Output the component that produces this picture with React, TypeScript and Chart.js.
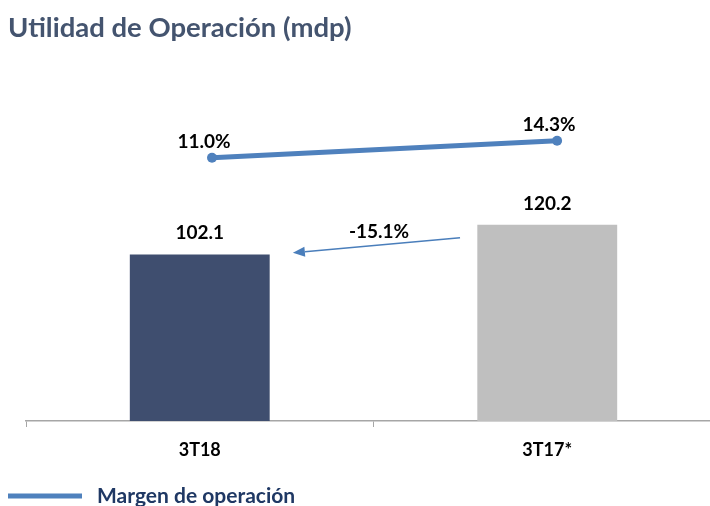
import React, { useEffect, useRef } from 'react';
import { Chart, registerables } from 'chart.js';

Chart.register(...registerables);

const categories = ['3T18', '3T17*'];
const utilidad = [102.1, 120.2];
const margen = [11.0, 14.3];
const barColors = ['#3F4E6F', '#BFBFBF'];
const titleText = 'Utilidad de Operación (mdp)';
const lineLabel = 'Margen de operación';
const variationText = '-15.1%';
// arrow from near 3T17 bar toward 3T18 bar, in (category index, value) terms
const arrowFrom = [0.749, 112.3];
const arrowTo = [0.268, 103.1];
const variationPos = [0.516, 112];

const FONT = 'Lato, "Open Sans", sans-serif';
const LINE_COLOR = '#4F81BD';

const overlayPlugin = {
  id: 'overlay',
  afterDatasetsDraw(chart: any) {
    const ctx = chart.ctx;
    const xs = chart.scales.x;
    const ys = chart.scales.y;
    ctx.save();
    // title
    ctx.fillStyle = '#44546F';
    ctx.font = `bold 27.5px ${FONT}`;
    ctx.textAlign = 'left';
    ctx.textBaseline = 'alphabetic';
    ctx.fillText(titleText, 8, 37);

    // bar labels
    ctx.fillStyle = '#000';
    ctx.font = `bold 19px ${FONT}`;
    ctx.textAlign = 'center';
    const barMeta = chart.getDatasetMeta(0);
    barMeta.data.forEach((el: any, i: number) => {
      ctx.fillText(utilidad[i].toFixed(1), el.x, el.y - 15);
    });
    // line labels
    const lineMeta = chart.getDatasetMeta(1);
    lineMeta.data.forEach((el: any, i: number) => {
      ctx.fillText(margen[i].toFixed(1) + '%', el.x - 8, el.y - 10);
    });

    // arrow
    const catW = xs.getPixelForValue(1) - xs.getPixelForValue(0);
    const px = (v: number) => xs.getPixelForValue(0) + v * catW;
    const x1 = px(arrowFrom[0]), y1 = ys.getPixelForValue(arrowFrom[1]);
    const x2 = px(arrowTo[0]), y2 = ys.getPixelForValue(arrowTo[1]);
    const ang = Math.atan2(y2 - y1, x2 - x1);
    const headL = 12, headW = 5;
    const bx = x2 - headL * Math.cos(ang), by = y2 - headL * Math.sin(ang);
    ctx.strokeStyle = '#4A7EBB';
    ctx.fillStyle = '#4A7EBB';
    ctx.lineWidth = 1.5;
    ctx.beginPath();
    ctx.moveTo(x1, y1);
    ctx.lineTo(bx, by);
    ctx.stroke();
    ctx.beginPath();
    ctx.moveTo(x2, y2);
    ctx.lineTo(bx + headW * Math.sin(ang), by - headW * Math.cos(ang));
    ctx.lineTo(bx - headW * Math.sin(ang), by + headW * Math.cos(ang));
    ctx.closePath();
    ctx.fill();
    ctx.fillStyle = '#000';
    ctx.font = `bold 19px ${FONT}`;
    ctx.fillText(variationText, px(variationPos[0]), ys.getPixelForValue(variationPos[1]));

    // legend
    ctx.strokeStyle = LINE_COLOR;
    ctx.lineWidth = 5;
    ctx.beginPath();
    ctx.moveTo(8, 496);
    ctx.lineTo(82, 496);
    ctx.stroke();
    ctx.fillStyle = '#1F3864';
    ctx.font = `bold 21px ${FONT}`;
    ctx.textAlign = 'left';
    ctx.fillText(lineLabel, 97, 503);
    ctx.restore();
  },
};

export default function App() {
  const ref = useRef<HTMLCanvasElement>(null);
  useEffect(() => {
    if (!ref.current) return;
    const chart = new Chart(ref.current, {
      type: 'bar',
      data: {
        labels: categories,
        datasets: [
          {
            type: 'bar',
            label: 'Utilidad de Operación',
            data: utilidad,
            backgroundColor: barColors,
            grouped: false,
            barPercentage: 0.805,
            categoryPercentage: 0.5,
            yAxisID: 'y',
            xAxisID: 'x',
            order: 2,
          } as any,
          {
            type: 'line',
            label: lineLabel,
            data: margen.map((v, i) => ({ x: i, y: v })),
            borderColor: LINE_COLOR,
            backgroundColor: LINE_COLOR,
            borderWidth: 5,
            pointRadius: 5,
            pointBackgroundColor: LINE_COLOR,
            pointBorderWidth: 0,
            yAxisID: 'y1',
            xAxisID: 'x2',
            order: 1,
          } as any,
        ],
      },
      options: {
        responsive: false,
        animation: false,
        layout: { padding: { left: 26, right: 19, top: 62, bottom: 0 } },
        plugins: { legend: { display: false }, tooltip: { enabled: false }, title: { display: false } },
        scales: {
          x: {
            type: 'category',
            offset: true,
            grid: { offset: true, drawOnChartArea: false, drawTicks: true, tickLength: 6, color: '#A6A6A6' },
            border: { display: true, color: '#A6A6A6', width: 1.5 },
            ticks: { color: '#000', font: { family: FONT, size: 18, weight: 'bold' }, padding: 12 },
            afterFit: (scale: any) => { scale.height = 85; },
          },
          x2: {
            type: 'linear',
            display: false,
            offset: false,
            min: -0.539,
            max: 1.475,
          },
          y: { display: false, min: 0, max: 220 },
          y1: { display: false, min: -40.1, max: 29.6 },
        },
      },
      plugins: [overlayPlugin],
    });
    return () => chart.destroy();
  }, []);
  return (
    <div style={{ position: 'absolute', left: 0, top: 0, width: 710, height: 506, overflow: 'hidden', background: '#fff' }}>
      <canvas ref={ref} width={740} height={506} style={{ display: 'block', width: 740, height: 506 }} />
    </div>
  );
}
